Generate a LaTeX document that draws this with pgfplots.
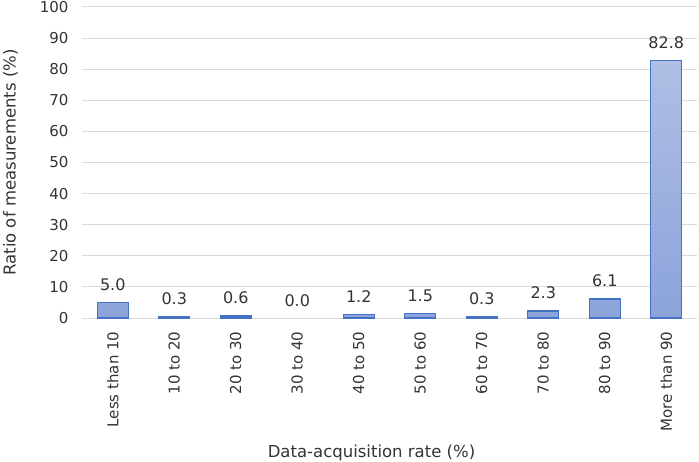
\documentclass[border=0pt]{standalone}
\usepackage{pgfplots}
\pgfplotsset{compat=1.18}
\usepackage{fontspec}
\setmainfont{DejaVu Sans}
\definecolor{barline}{HTML}{4472C4}
\definecolor{bartop}{HTML}{AFBEE4}
\definecolor{barbot}{HTML}{8CA4DB}
\definecolor{gridc}{HTML}{D9D9D9}
\definecolor{txt}{HTML}{333333}
\begin{document}
\begin{tikzpicture}
\useasboundingbox (-82pt,-143pt) rectangle (617pt,318pt);
\begin{axis}[
  at={(0,0)}, anchor=south west,
  scale only axis, width=615pt, height=311pt,
  xmin=-0.5, xmax=9.5, ymin=0, ymax=100,
  ytick={0,10,...,100},
  xtick={0,...,9},
  xticklabels={Less than 10,10 to 20,20 to 30,30 to 40,40 to 50,50 to 60,60 to 70,70 to 80,80 to 90,More than 90},
  axis line style={draw=none},
  ymajorgrids, grid style={gridc, line width=1pt},
  major tick length=0pt,
  tick label style={font=\fontsize{15}{18}\selectfont, text=txt},
  /pgf/number format/assume math mode=true,
  yticklabel style={xshift=-10pt},
  xticklabel style={yshift=-10pt, rotate=90, anchor=east},
  xlabel={Data-acquisition rate (\%)},
  ylabel={Ratio of measurements (\%)},
  label style={font=\fontsize{16.5}{20}\selectfont, text=txt},
  xlabel style={at={(axis description cs:0.4707,-0.447)}, anchor=base},
  ylabel style={at={(axis description cs:-0.1285,0.5)}, anchor=north, inner sep=0pt},
  clip=false,
  nodes near coords,
  nodes near coords style={font=\fontsize{16}{19}\selectfont, text=txt, yshift=8pt,
    /pgf/number format/.cd, fixed, fixed zerofill, precision=1, assume math mode=true},
]
\addplot[ybar, bar width=31pt, bar shift=0pt, draw=barline, line width=1.4pt,
  top color=bartop, bottom color=barbot]
  coordinates {(0,5.0) (1,0.3) (2,0.6) (4,1.2) (5,1.5) (6,0.3) (7,2.3) (8,6.1) (9,82.8)};
\addplot[ybar, bar width=31pt, bar shift=0pt, draw=none, fill=none]
  coordinates {(3,0.0)};
\end{axis}
\end{tikzpicture}
\end{document}
